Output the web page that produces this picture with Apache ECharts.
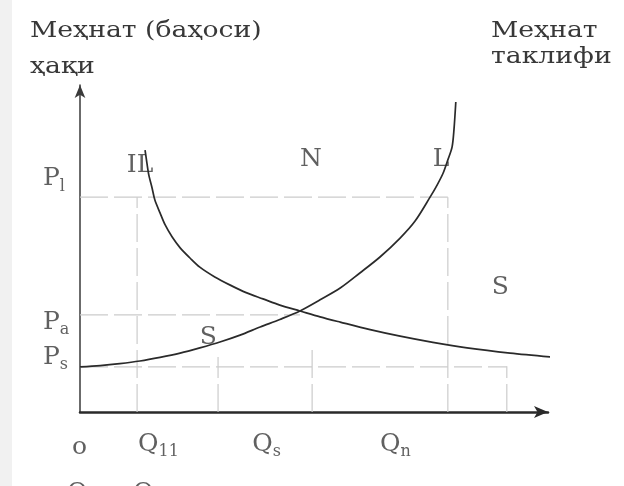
<!DOCTYPE html>
<html>
<head>
<meta charset="utf-8">
<script src="https://cdn.jsdelivr.net/npm/echarts@6/dist/echarts.min.js"></script>
<style>
    html, body { margin: 0; padding: 0; background: #fff; }
    #chart { width: 624px; height: 486px; }
</style>
</head>
<body>
<div id="chart"></div>
<script>
    // L - меҳнатга талаб (demand)
    var demandQ = [13.9, 14.3, 14.7, 15.4, 16.0, 17.1, 18.2, 19.7, 21.4, 23.5, 25.6, 28.8, 32.1,
        35.5, 39.1, 42.7, 47.0, 51.3, 55.6, 62.0, 68.4, 75.4, 82.7, 91.9, 100.9];
    var demandP = [80.1, 76.1, 72.5, 68.5, 64.8, 60.9, 57.2, 53.5, 50.2, 47.1, 44.3, 41.3, 38.8,
        36.5, 34.6, 32.7, 30.9, 29.1, 27.5, 25.2, 23.2, 21.3, 19.6, 18.0, 16.8];
    // S - меҳнат таклифи (supply)
    var supplyQ = [0.0, 4.3, 8.5, 12.8, 17.1, 21.4, 25.6, 29.9, 34.2, 38.5, 42.7, 47.0, 51.3,
        55.6, 59.8, 64.1, 68.4, 71.6, 74.8, 76.3, 77.6, 78.6, 79.5, 79.9, 80.3];
    var supplyP = [13.8, 14.2, 14.8, 15.6, 16.7, 18.0, 19.6, 21.4, 23.5, 26.0, 28.3, 30.9, 34.3,
        37.9, 42.5, 47.4, 53.2, 58.4, 65.7, 69.4, 73.1, 77.1, 81.0, 86.2, 94.8];

    // dashed guide lines: start and end points
    var guideFrom = [[0, 65.7], [0, 29.7], [0, 13.8], [12.2, 0], [29.5, 0], [49.6, 0], [78.6, 0], [91.2, 0]];
    var guideTo = [[78.6, 65.7], [47, 29.7], [91.2, 13.8], [12.2, 65.7], [29.5, 16.8], [49.6, 19.9], [78.6, 65.7], [91.2, 14]];

    // text marks in the chart
    var labelText = ['P', 'P', 'P', 'IL', 'N', 'L', 'S', 'S', 'o', 'Q', 'Q', 'Q', 'О', 'О'];
    var labelSub = ['l', 'a', 's', '', '', '', '', '', '', '11', 's', 'n', '', ''];
    var labelQ = [-7.9, -7.9, -7.9, 10.0, 47.0, 75.4, 88.0, 25.6, -1.7, 12.4, 36.8, 64.1, -2.8, 11.3];
    var labelP = [71.3, 27.5, 16.8, 75.5, 77.1, 77.1, 38.2, 22.9, -11.0, -9.8, -9.8, -9.8, -25.0, -25.0];

    var chart = echarts.init(document.getElementById('chart'));
    var font = 'DejaVu Serif';
    var ink = '#383838';

    function zip(a, b) {
        var out = [];
        for (var i = 0; i < a.length; i++) {
            out.push([a[i], b[i]]);
        }
        return out;
    }

    var series = [];

    for (var i = 0; i < guideFrom.length; i++) {
        series.push({
            type: 'line',
            data: [guideFrom[i], guideTo[i]],
            showSymbol: false,
            silent: true,
            lineStyle: {color: '#cbcbcb', width: 1.2, type: [28, 6]}
        });
    }

    series.push({
        type: 'line',
        data: zip(demandQ, demandP),
        smooth: 0.3,
        showSymbol: false,
        clip: false,
        silent: true,
        lineStyle: {color: '#2a2a2a', width: 1.7}
    });
    series.push({
        type: 'line',
        data: zip(supplyQ, supplyP),
        smooth: 0.3,
        showSymbol: false,
        clip: false,
        silent: true,
        lineStyle: {color: '#2a2a2a', width: 1.7}
    });

    var labelData = [];
    for (var j = 0; j < labelText.length; j++) {
        labelData.push({value: [labelQ[j], labelP[j]], name: labelText[j], sub: labelSub[j]});
    }
    series.push({
        type: 'scatter',
        data: labelData,
        symbolSize: 1,
        clip: false,
        silent: true,
        itemStyle: {color: 'rgba(0,0,0,0)'},
        label: {
            show: true,
            position: 'inside',
            align: 'left',
            verticalAlign: 'middle',
            formatter: function (p) {
                var s = '{m|' + p.data.name + '}';
                if (p.data.sub) {
                    s += '{s|' + p.data.sub + '}';
                }
                return s;
            },
            rich: {
                m: {fontFamily: font, fontSize: 25, lineHeight: 32, color: ink},
                s: {fontFamily: font, fontSize: 16, lineHeight: 15, color: ink, verticalAlign: 'bottom'}
            }
        }
    });

    var titleFont = '23px "DejaVu Serif"';

    var option = {
        animation: false,
        backgroundColor: '#fff',
        grid: {left: 80, right: 76, top: 85, bottom: 74},
        xAxis: {
            type: 'value',
            min: 0,
            max: 100,
            axisLine: {show: true, symbol: ['none', 'arrow'], symbolSize: [9, 14], lineStyle: {color: '#2a2a2a', width: 2.5}},
            axisTick: {show: false},
            axisLabel: {show: false},
            splitLine: {show: false}
        },
        yAxis: {
            type: 'value',
            min: 0,
            max: 100,
            axisLine: {show: true, symbol: ['none', 'arrow'], symbolSize: [8, 13], lineStyle: {color: '#3a3a3a', width: 1.5}},
            axisTick: {show: false},
            axisLabel: {show: false},
            splitLine: {show: false}
        },
        graphic: [
            {type: 'rect', left: 0, top: 0, shape: {width: 12, height: 486}, style: {fill: '#f1f1f1'}, silent: true},
            {type: 'text', left: 30, top: 20, scaleX: 1.16, style: {text: 'Меҳнат (баҳоси)', font: titleFont, fill: ink}},
            {type: 'text', left: 30, top: 56, scaleX: 1.16, style: {text: 'ҳақи', font: titleFont, fill: ink}},
            {type: 'text', left: 491, top: 20, scaleX: 1.16, style: {text: 'Меҳнат', font: titleFont, fill: ink}},
            {type: 'text', left: 491, top: 46, scaleX: 1.16, style: {text: 'таклифи', font: titleFont, fill: ink}}
        ],
        series: series
    };
    chart.setOption(option);
</script>
</body>
</html>
